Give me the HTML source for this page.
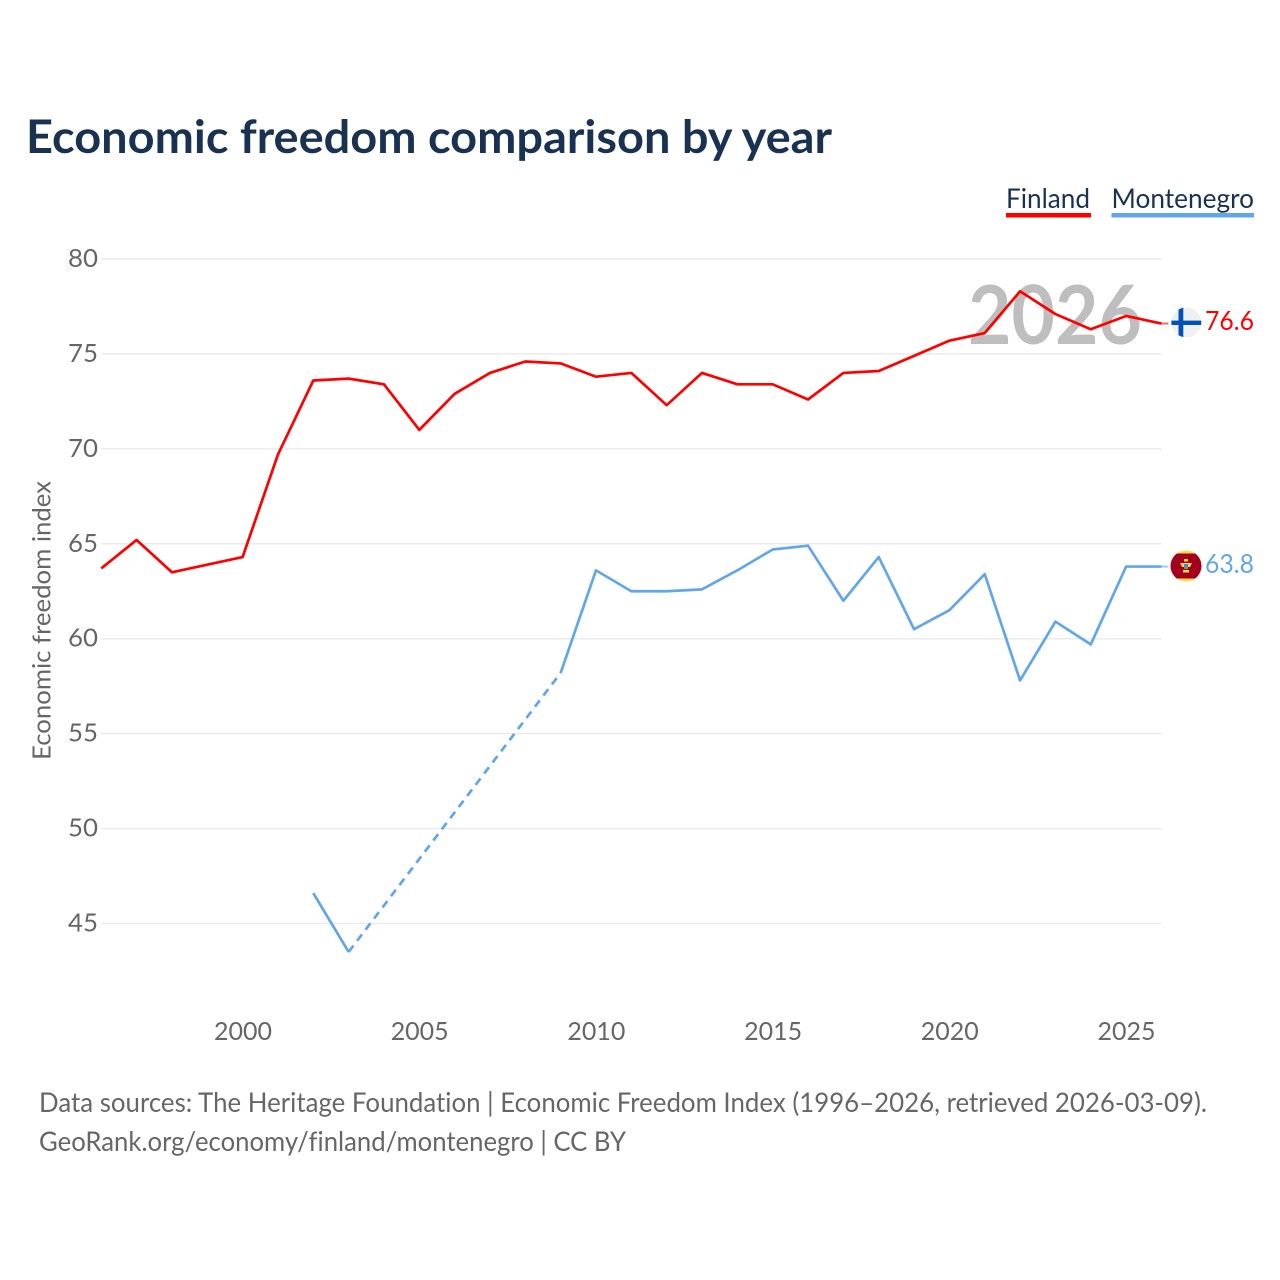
<!DOCTYPE html>
<html lang="en">
<head>
<meta charset="utf-8">
<title>Economic freedom comparison by year</title>
<style>
html,body{margin:0;padding:0;background:#fff;width:1280px;height:1280px;overflow:hidden}
svg{display:block}
text{font-family:"Lato","Carlito","Liberation Sans",sans-serif;font-variant-ligatures:none}
</style>
</head>
<body>
<svg id="chart" width="1280" height="1280" viewBox="0 0 1280 1280" xmlns="http://www.w3.org/2000/svg">
  <text x="26" y="153" font-size="46" font-weight="700" fill="#1a3252" textLength="806" lengthAdjust="spacingAndGlyphs">Economic freedom comparison by year</text>
  <g id="gridlayer"></g>
  <g id="ylabels"></g>
  <g id="xlabels"></g>
  <text x="0" y="0" transform="translate(50.5,620.5) rotate(-90)" text-anchor="middle" font-size="25" fill="#666666" textLength="279" lengthAdjust="spacingAndGlyphs">Economic freedom index</text>
  <text x="1055" y="344" text-anchor="middle" font-size="81" font-weight="700" fill="#bebebe" textLength="174" lengthAdjust="spacingAndGlyphs">2026</text>
  <g id="serieslayer"></g>

  <g>
    <text x="1006" y="208" font-size="27" fill="#1a3252" textLength="84" lengthAdjust="spacingAndGlyphs">Finland</text>
    <rect x="1006" y="213" width="85" height="4.5" fill="#ff0000"></rect>
  </g>
  <g>
    <text x="1111.5" y="208" font-size="27" fill="#1a3252" textLength="142.5" lengthAdjust="spacingAndGlyphs">Montenegro</text>
    <rect x="1111.5" y="213" width="142.5" height="4.5" fill="#62a6ea"></rect>
  </g>

  <g id="flag-finland">
    <clipPath id="clip-fi"><circle cx="1186.3" cy="322.4" r="15"></circle></clipPath>
    <circle cx="1186.3" cy="322.4" r="15" fill="#f0f0f0"></circle>
    <g clip-path="url(#clip-fi)">
      <rect x="1171" y="320.6" width="31" height="4.4" fill="#0052b4"></rect>
      <rect x="1178.5" y="307" width="4.8" height="31" fill="#0052b4"></rect>
    </g>
  </g>
  <g id="flag-montenegro">
    <clipPath id="clip-me"><circle cx="1186" cy="566" r="15.5"></circle></clipPath>
    <circle cx="1186" cy="566" r="15.5" fill="#ffda44"></circle>
    <g clip-path="url(#clip-me)">
      <rect x="1170" y="553.5" width="32" height="25" fill="#a2001d"></rect>
    </g>
    <rect x="1184" y="559" width="4" height="2.5" fill="#ffda44"></rect>
    <path d="M1180 563 h12 l-2 4 h-8 z" fill="#ffda44"></path>
    <rect x="1184" y="564" width="4" height="5" fill="#338af3"></rect>
    <rect x="1184" y="567" width="4" height="2" fill="#6da544"></rect>
    <rect x="1183" y="570" width="6" height="2.5" fill="#ffda44"></rect>
  </g>

  <text id="value-finland" x="1254" y="330" text-anchor="end" font-size="26" fill="#ff0000" textLength="49" lengthAdjust="spacingAndGlyphs">76.6</text>
  <text id="value-montenegro" x="1254" y="573" text-anchor="end" font-size="26" fill="#62a6ea" textLength="49" lengthAdjust="spacingAndGlyphs">63.8</text>

  <text x="39" y="1112" font-size="27" fill="#666666" textLength="1168" lengthAdjust="spacingAndGlyphs">Data sources: The Heritage Foundation | Economic Freedom Index (1996–2026, retrieved 2026-03-09).</text>
  <text x="39" y="1151" font-size="27" fill="#666666" textLength="587" lengthAdjust="spacingAndGlyphs">GeoRank.org/economy/finland/montenegro | CC BY</text>
</svg>
<script>
const years = [1996,1997,1998,1999,2000,2001,2002,2003,2004,2005,2006,2007,2008,2009,2010,2011,2012,2013,2014,2015,2016,2017,2018,2019,2020,2021,2022,2023,2024,2025,2026];
const finlandValues = [63.7,65.2,63.5,63.9,64.3,69.7,73.6,73.7,73.4,71.0,72.9,74.0,74.6,74.5,73.8,74.0,72.3,74.0,73.4,73.4,72.6,74.0,74.1,74.9,75.7,76.1,78.3,77.1,76.3,77.0,76.6];
const montenegroValues = [null,null,null,null,null,null,46.6,43.5,null,null,null,null,null,58.2,63.6,62.5,62.5,62.6,63.6,64.7,64.9,62.0,64.3,60.5,61.5,63.4,57.8,60.9,59.7,63.8,63.8];
const yTicks = [80,75,70,65,60,55,50,45];
const xTicks = [2000,2005,2010,2015,2020,2025];

const NS = 'http://www.w3.org/2000/svg';
const xScale = function (year) { return 242.6 + (year - 2000) * (1126.1 - 242.6) / 25; };
const yScale = function (value) { return 259 + (80 - value) * (923.5 - 259) / 35; };
const plotLeft = xScale(years[0]);
const plotRight = xScale(years[years.length - 1]);

function make(tag, attrs, parent, txt) {
  const el = document.createElementNS(NS, tag);
  Object.keys(attrs).forEach(function (k) { el.setAttribute(k, attrs[k]); });
  if (txt !== undefined) el.textContent = txt;
  parent.appendChild(el);
  return el;
}

const gridLayer = document.getElementById('gridlayer');
const yLabelLayer = document.getElementById('ylabels');
const xLabelLayer = document.getElementById('xlabels');
const seriesLayer = document.getElementById('serieslayer');

yTicks.forEach(function (t) {
  const line = make('line', {x1: plotLeft, x2: plotRight, y1: yScale(t), y2: yScale(t), stroke: '#ebebeb', 'stroke-width': 1.5}, gridLayer);
  
  
  const label = make('text', {x: 98, y: yScale(t) + 8, 'text-anchor': 'end', 'font-size': 25.5, fill: '#666666', textLength: 30, lengthAdjust: 'spacingAndGlyphs'}, yLabelLayer, String(t));
  
  
});

xTicks.forEach(function (t) {
  const label = make('text', {x: xScale(t) + 0.4, y: 1040, 'text-anchor': 'middle', 'font-size': 25.5, fill: '#666666', textLength: 58, lengthAdjust: 'spacingAndGlyphs'}, xLabelLayer, String(t));
  
  
});

function drawSeries(name, values, color) {
  let segment = [];
  let lastPoint = null;
  function flush() {
    if (segment.length > 1) {
      const p = make('polyline', {points: segment.join(' '), fill: 'none', stroke: color, 'stroke-width': 2.7, 'stroke-linejoin': 'round'}, seriesLayer);
      
      
    }
    segment = [];
  }
  values.forEach(function (v, i) {
    if (v === null) {
      flush();
      return;
    }
    const pt = [xScale(years[i]), yScale(v)];
    if (lastPoint && lastPoint.i < i - 1) {
      const d = make('line', {x1: lastPoint.pt[0], y1: lastPoint.pt[1], x2: pt[0], y2: pt[1], stroke: color, 'stroke-width': 2.7, 'stroke-dasharray': '8 6'}, seriesLayer);
      
      
    }
    segment.push(pt.join(','));
    lastPoint = {i: i, pt: pt};
  });
  flush();
  if (lastPoint) {
    const c = make('line', {x1: lastPoint.pt[0], y1: lastPoint.pt[1], x2: lastPoint.pt[0] + 7, y2: lastPoint.pt[1], stroke: color, 'stroke-width': 2, opacity: 0.6}, seriesLayer);
    
    
  }
}

drawSeries('finland', finlandValues, '#ff0000');
drawSeries('montenegro', montenegroValues, '#62a6ea');
</script>
</body>
</html>
